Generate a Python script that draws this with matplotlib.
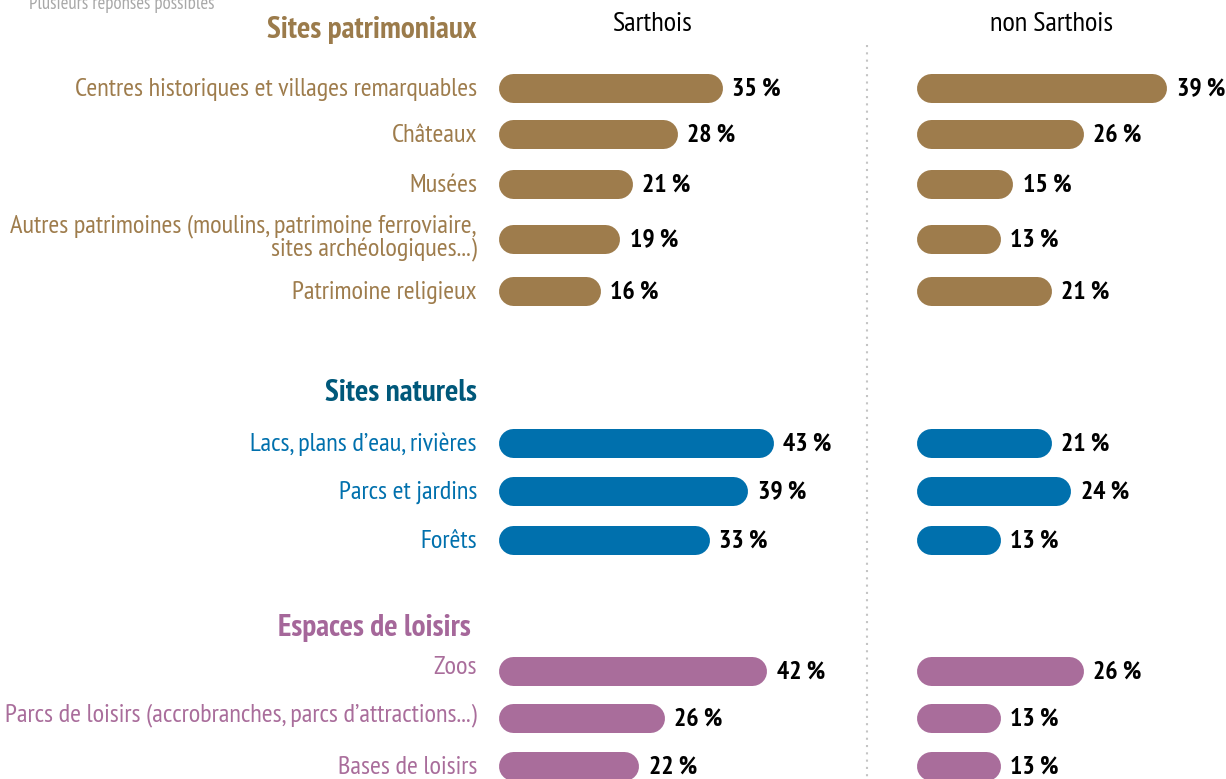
import matplotlib.pyplot as plt
from matplotlib.lines import Line2D

plt.rcParams['font.family'] = ['PT Sans Narrow', 'Barlow Condensed', 'DejaVu Sans']

# data
patri_labels = ['Centres historiques et villages remarquables', 'Châteaux', 'Musées',
                'Autres patrimoines (moulins, patrimoine ferroviaire,\nsites archéologiques...)',
                'Patrimoine religieux']
patri_sarthois = [35, 28, 21, 19, 16]
patri_non = [39, 26, 15, 13, 21]

nat_labels = ['Lacs, plans d\u2019eau, rivières', 'Parcs et jardins', 'Forêts']
nat_sarthois = [43, 39, 33]
nat_non = [21, 24, 13]

loisirs_labels = ['Zoos', 'Parcs de loisirs (accrobranches, parcs d\u2019attractions...)', 'Bases de loisirs']
loisirs_sarthois = [42, 26, 22]
loisirs_non = [26, 13, 13]

col_titles = ['Sarthois', 'non Sarthois']

# layout (pixels)
W, H = 1226, 779
PX = 6.4          # pixels per percent
BAR_H = 29        # bar thickness in px
cap = BAR_H / 2 / PX

groups = [
    ('Sites patrimoniaux', '#9b7b4b', '#9e7c4c', patri_labels, patri_sarthois, patri_non,
     [88, 134, 184, 239, 291], [89, 135, 185, 238, 292], 30, 477),
    ('Sites naturels', '#00587a', '#0070ad', nat_labels, nat_sarthois, nat_non,
     [443, 491, 540], [444, 492, 541], 393, 477),
    ('Espaces de loisirs', '#a5679a', '#a96d9b', loisirs_labels, loisirs_sarthois, loisirs_non,
     [671, 718, 766], [667, 715, 767], 628, 471),
]

fig = plt.figure(figsize=(W / 100, H / 100), dpi=100)

panel_x = [498, 917]
axes = []
for x0 in panel_x:
    ax = fig.add_axes([x0 / W, 0, (W - x0) / W, 1])
    ax.set_xlim(0, (W - x0) / PX)
    ax.set_ylim(H, 0)
    ax.axis('off')
    axes.append(ax)

lw = BAR_H * 72 / 100
for title, tcol, bcol, labels, vals_s, vals_n, ys, lys, ty, tx in groups:
    fig.text(tx / W, 1 - ty / H, title, ha='right', va='center', fontsize=22.5,
             fontweight='bold', color=tcol)
    for ax, vals in zip(axes, [vals_s, vals_n]):
        for v, y in zip(vals, ys):
            ax.plot([cap, v - cap], [y, y], color=bcol, lw=lw, solid_capstyle='round')
            ax.text(v + 10 / PX, y + 1, f'{v} %', ha='left', va='center',
                    fontsize=18.5, fontweight='bold', color='black')
    for lab, y in zip(labels, lys):
        axes[0].text(-21 / PX, y, lab, ha='right', va='center', fontsize=19,
                     color=bcol, linespacing=1.0, clip_on=False)

for ax, t, cx in zip(axes, col_titles, [652, 1051]):
    fig.text(cx / W, 1 - 24 / H, t, ha='center', va='center', fontsize=20.5, color='black')

fig.text(29 / W, 1 - 4 / H, 'Plusieurs réponses possibles', ha='left', va='center',
         fontsize=13.5, color='#a8a8a8')

fig.add_artist(Line2D([867 / W, 867 / W], [1 - 45 / H, 0], transform=fig.transFigure,
                      color='#c4c4c4', lw=1.5, linestyle=(0, (1, 2.5))))

fig.savefig('out.png', dpi=100)
